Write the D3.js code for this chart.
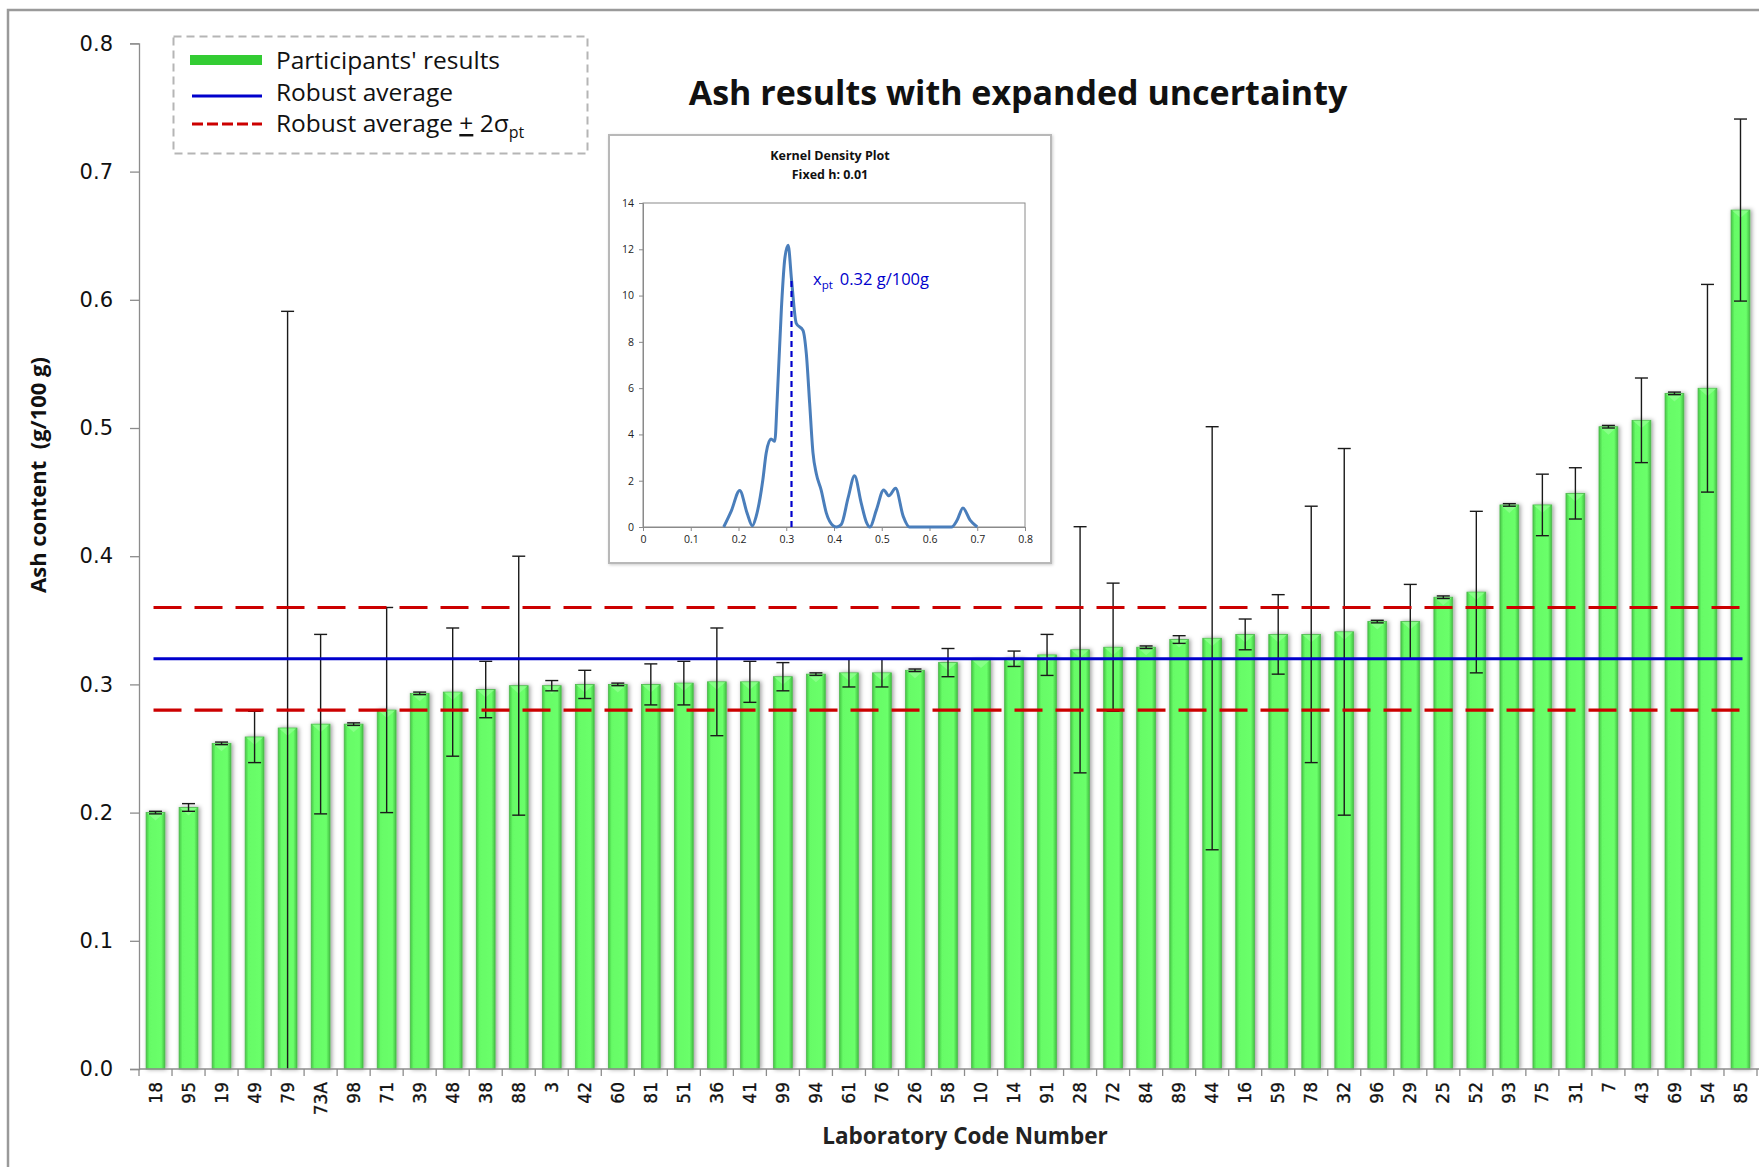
<!DOCTYPE html>
<html>
<head>
<meta charset="utf-8">
<script src="https://cdn.jsdelivr.net/npm/d3@7"></script>
<style>
  body { margin: 0; background: #fff; }
  svg { display: block; }
</style>
</head>
<body>
<div id="chart"></div>
<script>
// lab codes, sorted by result
const labs = ["18","95","19","49","79","73A","98","71","39","48","38","88","3","42","60","81","51","36","41","99",
  "94","61","76","26","58","10","14","91","28","72","84","89","44","16","59","78","32","96","29","25",
  "52","93","75","31","7","43","69","54","85"];
const results = [0.200,0.204,0.254,0.259,0.266,0.269,0.269,0.280,0.293,0.294,0.296,0.299,0.299,0.300,0.300,0.300,0.301,0.302,0.302,0.306,
  0.308,0.309,0.309,0.311,0.317,0.319,0.320,0.323,0.327,0.329,0.329,0.335,0.336,0.339,0.339,0.339,0.341,0.349,0.349,0.368,
  0.372,0.440,0.440,0.449,0.501,0.506,0.527,0.531,0.670];
const uncert = [0.001,0.003,0.001,0.020,0.325,0.070,0.001,0.080,0.001,0.050,0.022,0.101,0.004,0.011,0.001,0.016,0.017,0.042,0.016,0.011,
  0.001,0.011,0.011,0.001,0.011,0,0.006,0.016,0.096,0.050,0.001,0.003,0.165,0.012,0.031,0.100,0.143,0.001,0.029,0.001,
  0.063,0.001,0.024,0.020,0.001,0.033,0.001,0.081,0.071];
const robustAvg = 0.32;
const sigmaBand = [0.28, 0.36];
const yTicks = [0, 0.1, 0.2, 0.3, 0.4, 0.5, 0.6, 0.7, 0.8];

// kernel density inset
const kdeX = [0.169,0.185,0.2025,0.218,0.229,0.237,0.251,0.258,0.268,0.276,0.281,0.29,0.297,0.304,0.311,0.321,0.335,0.342,0.349,0.356,
  0.363,0.373,0.384,0.398,0.405,0.415,0.43,0.443,0.457,0.468,0.475,0.489,0.504,0.515,0.529,0.545,0.558,0.646,0.658,0.67,0.685,0.70];
const kdeY = [0,0.7,1.58,0.6,0.05,0.46,2.04,3.2,3.8,3.7,5.5,9.5,11.6,12.17,10.7,8.8,8.5,7.5,5.35,3.2,
  2.3,1.6,0.6,0.06,0,0.1,1.3,2.21,1.03,0.2,0,0.75,1.6,1.35,1.67,0.46,0,0,0.3,0.82,0.3,0];
const kdeXTicks = [0, 0.1, 0.2, 0.3, 0.4, 0.5, 0.6, 0.7, 0.8];
const kdeYTicks = [0, 2, 4, 6, 8, 10, 12, 14];
const xptLine = 0.311;

const W = 1759, H = 1167;
const svg = d3.select("#chart").append("svg")
  .attr("width", W)
  .attr("height", H);

const defs = svg.append("defs");
const grad = defs.append("linearGradient").attr("id", "barGrad")
  .attr("x1", "0%").attr("x2", "100%").attr("y1", "0%").attr("y2", "0%");
grad.append("stop").attr("offset", "0%").attr("stop-color", "#45c645");
grad.append("stop").attr("offset", "18%").attr("stop-color", "#66fb66");
grad.append("stop").attr("offset", "80%").attr("stop-color", "#6aff6a");
grad.append("stop").attr("offset", "100%").attr("stop-color", "#42c042");

const shadow = defs.append("filter").attr("id", "barShadow")
  .attr("x", "-40%").attr("y", "-5%").attr("width", "180%").attr("height", "110%");
shadow.append("feDropShadow").attr("dx", 1.5).attr("dy", 0).attr("stdDeviation", 2.2)
  .attr("flood-color", "#000").attr("flood-opacity", 0.4);

const insetShadow = defs.append("filter").attr("id", "insetShadow")
  .attr("x", "-5%").attr("y", "-5%").attr("width", "110%").attr("height", "110%");
insetShadow.append("feDropShadow").attr("dx", 1).attr("dy", 1).attr("stdDeviation", 1.5)
  .attr("flood-color", "#000").attr("flood-opacity", 0.2);

defs.append("clipPath").attr("id", "plotClip")
  .append("rect").attr("x", 130).attr("y", 20).attr("width", 1640).attr("height", 1049);

// outer chart frame
svg.append("rect")
  .attr("x", 8).attr("y", 10)
  .attr("width", 1800).attr("height", 1200)
  .attr("fill", "none")
  .attr("stroke", "#9a9a9a")
  .attr("stroke-width", 2.5);

const x = d3.scaleBand()
  .domain(labs)
  .range([139, 1757])
  .paddingInner(0.43)
  .paddingOuter(0.215);

const y = d3.scaleLinear()
  .domain([0, 0.8])
  .range([1069, 43.4]);

// bars
svg.append("g").selectAll("rect")
  .data(results)
  .join("rect")
  .attr("x", (d, i) => x(labs[i]))
  .attr("y", d => y(d))
  .attr("width", x.bandwidth())
  .attr("height", d => y(0) - y(d))
  .attr("fill", "url(#barGrad)")
  .attr("stroke", "#4fb94f")
  .attr("stroke-width", 0.8)
  .attr("filter", "url(#barShadow)");

// little bevel on the top of each bar
svg.append("g").selectAll("path")
  .data(results)
  .join("path")
  .attr("d", (d, i) => {
    const x0 = x(labs[i]), w = x.bandwidth(), t = y(d);
    return `M${x0 + 1},${t + 0.5} L${x0 + w - 1},${t + 0.5} L${x0 + w / 2},${t + 8} Z`;
  })
  .attr("fill", "#8dff8d")
  .attr("opacity", 0.8);

// error bars
const eg = svg.append("g").attr("clip-path", "url(#plotClip)")
  .attr("stroke", "#1a1a1a").attr("stroke-width", 1.4);
results.forEach((d, i) => {
  const e = uncert[i];
  if (e <= 0) return;
  const cx = x(labs[i]) + x.bandwidth() / 2;
  eg.append("line")
    .attr("x1", cx).attr("x2", cx)
    .attr("y1", y(d + e)).attr("y2", y(d - e));
  [d + e, d - e].forEach(v => {
    eg.append("line")
      .attr("x1", cx - 6.5).attr("x2", cx + 6.5)
      .attr("y1", y(v)).attr("y2", y(v));
  });
});

// reference lines
const xFirst = x(labs[0]) + x.bandwidth() / 2;
const xLast = x(labs[labs.length - 1]) + x.bandwidth() / 2;
sigmaBand.forEach(v => {
  svg.append("line")
    .attr("x1", xFirst - 2).attr("x2", xLast + 2)
    .attr("y1", y(v)).attr("y2", y(v))
    .attr("stroke", "#cc0000")
    .attr("stroke-width", 3.2)
    .attr("stroke-dasharray", "28,13");
});
svg.append("line")
  .attr("x1", xFirst - 2).attr("x2", xLast + 2)
  .attr("y1", y(robustAvg)).attr("y2", y(robustAvg))
  .attr("stroke", "#0000cc")
  .attr("stroke-width", 3);

// y axis
const yAxis = svg.append("g")
  .attr("transform", "translate(139,0)")
  .call(d3.axisLeft(y).tickValues(yTicks).tickFormat(d3.format(".1f")).tickSize(9).tickPadding(17));
yAxis.select(".domain").attr("stroke", "#8c8c8c").attr("stroke-width", 1.3);
yAxis.selectAll(".tick line").attr("stroke", "#8c8c8c").attr("stroke-width", 1.3);
yAxis.selectAll(".tick text")
  .attr("font-family", "DejaVu Sans, Verdana, sans-serif")
  .attr("font-size", 21)
  .attr("fill", "#111");

// x axis: ticks between the bars
const xg = svg.append("g");
xg.append("line")
  .attr("x1", 139).attr("x2", 1759)
  .attr("y1", y(0)).attr("y2", y(0))
  .attr("stroke", "#8c8c8c").attr("stroke-width", 1.3);
const step = x.step();
xg.selectAll("line.tk")
  .data(d3.range(labs.length + 1))
  .join("line")
  .attr("class", "tk")
  .attr("x1", i => 139 + i * step).attr("x2", i => 139 + i * step)
  .attr("y1", y(0)).attr("y2", y(0) + 7)
  .attr("stroke", "#8c8c8c").attr("stroke-width", 1.3);
xg.selectAll("text")
  .data(labs)
  .join("text")
  .attr("transform", d => `translate(${x(d) + x.bandwidth() / 2},1082) rotate(-90)`)
  .attr("text-anchor", "end")
  .attr("dy", "0.36em")
  .attr("font-family", "DejaVu Sans, Verdana, sans-serif")
  .attr("font-size", 17)
  .attr("fill", "#111")
  .attr("stroke", "#111")
  .attr("stroke-width", 0.35)
  .text(d => d);

// axis titles
svg.append("text")
  .attr("x", 965).attr("y", 1144)
  .attr("text-anchor", "middle")
  .attr("font-family", "Open Sans, sans-serif")
  .attr("font-weight", "bold")
  .attr("font-size", 22.5)
  .attr("fill", "#222")
  .text("Laboratory Code Number");

svg.append("text")
  .attr("transform", "translate(46,475) rotate(-90)")
  .attr("text-anchor", "middle")
  .attr("font-family", "Open Sans, sans-serif")
  .attr("font-weight", "bold")
  .attr("font-size", 22)
  .attr("fill", "#111")
  .attr("xml:space", "preserve")
  .text("Ash content  (g/100 g)");

// chart title
svg.append("text")
  .attr("x", 1018).attr("y", 105)
  .attr("text-anchor", "middle")
  .attr("font-family", "Open Sans, sans-serif")
  .attr("font-weight", "bold")
  .attr("font-size", 34)
  .attr("fill", "#111")
  .text("Ash results with expanded uncertainty");

// legend
const lg = svg.append("g");
lg.append("rect")
  .attr("x", 173.5).attr("y", 36.5)
  .attr("width", 414).attr("height", 117)
  .attr("fill", "#fff")
  .attr("stroke", "#b5b5b5")
  .attr("stroke-width", 2)
  .attr("stroke-dasharray", "8,5");
lg.append("line").attr("x1", 190).attr("x2", 262).attr("y1", 60).attr("y2", 60)
  .attr("stroke", "#33cc33").attr("stroke-width", 10);
lg.append("line").attr("x1", 192).attr("x2", 262).attr("y1", 96).attr("y2", 96)
  .attr("stroke", "#0000cc").attr("stroke-width", 3);
lg.append("line").attr("x1", 192).attr("x2", 262).attr("y1", 124).attr("y2", 124)
  .attr("stroke", "#cc0000").attr("stroke-width", 3.2).attr("stroke-dasharray", "11,4");
const legendFont = { family: "Open Sans, sans-serif", size: 24.5 };
lg.append("text").attr("x", 276).attr("y", 69)
  .attr("font-family", legendFont.family).attr("font-size", legendFont.size).attr("fill", "#111")
  .text("Participants' results");
lg.append("text").attr("x", 276).attr("y", 101)
  .attr("font-family", legendFont.family).attr("font-size", legendFont.size).attr("fill", "#111")
  .text("Robust average");
const l3 = lg.append("text").attr("x", 276).attr("y", 132)
  .attr("font-family", legendFont.family).attr("font-size", legendFont.size).attr("fill", "#111");
l3.append("tspan").text("Robust average ");
l3.append("tspan").attr("text-decoration", "underline").text("+");
l3.append("tspan").text(" 2\u03c3");
l3.append("tspan").attr("font-size", 16).attr("dy", 6).text("pt");

// kernel density inset
const ins = svg.append("g");
ins.append("rect")
  .attr("x", 609).attr("y", 135)
  .attr("width", 442).attr("height", 428)
  .attr("fill", "#fff")
  .attr("stroke", "#b8b8b8")
  .attr("stroke-width", 2)
  .attr("filter", "url(#insetShadow)");
ins.append("text").attr("x", 830).attr("y", 160)
  .attr("text-anchor", "middle")
  .attr("font-family", "Open Sans, sans-serif").attr("font-weight", "bold").attr("font-size", 12.5)
  .attr("fill", "#111").text("Kernel Density Plot");
ins.append("text").attr("x", 830).attr("y", 179)
  .attr("text-anchor", "middle")
  .attr("font-family", "Open Sans, sans-serif").attr("font-weight", "bold").attr("font-size", 12.5)
  .attr("fill", "#111").text("Fixed h: 0.01");

const kx = d3.scaleLinear().domain([0, 0.8]).range([643, 1025]);
const ky = d3.scaleLinear().domain([0, 14]).range([527, 203]);

ins.append("rect")
  .attr("x", 643).attr("y", 203)
  .attr("width", 1025 - 643).attr("height", 527 - 203)
  .attr("fill", "none").attr("stroke", "#8a8a8a").attr("stroke-width", 1);

const kxAxis = ins.append("g").attr("transform", "translate(0,527)")
  .call(d3.axisBottom(kx).tickValues(kdeXTicks).tickFormat(d => d === 0 ? "0" : d3.format(".1f")(d)).tickSize(4).tickPadding(5));
const kyAxis = ins.append("g").attr("transform", "translate(643,0)")
  .call(d3.axisLeft(ky).tickValues(kdeYTicks).tickSize(4).tickPadding(5));
[kxAxis, kyAxis].forEach(a => {
  a.select(".domain").attr("stroke", "#8a8a8a");
  a.selectAll(".tick line").attr("stroke", "#8a8a8a");
  a.selectAll(".tick text")
    .attr("font-family", "Open Sans, sans-serif")
    .attr("font-size", 10.5)
    .attr("fill", "#222");
});

const kde = kdeX.map((v, i) => [v, kdeY[i]]);
ins.append("path")
  .datum(kde)
  .attr("fill", "none")
  .attr("stroke", "#4a7ebb")
  .attr("stroke-width", 3)
  .attr("stroke-linejoin", "round")
  .attr("d", d3.line().x(d => kx(d[0])).y(d => ky(d[1])).curve(d3.curveMonotoneX));

ins.append("line")
  .attr("x1", kx(xptLine)).attr("x2", kx(xptLine))
  .attr("y1", ky(0)).attr("y2", ky(10.7))
  .attr("stroke", "#0000cc")
  .attr("stroke-width", 2.2)
  .attr("stroke-dasharray", "6,4");

const ann = ins.append("text").attr("x", 813).attr("y", 285)
  .attr("font-family", "Open Sans, sans-serif").attr("font-size", 16.5).attr("fill", "#0000cc");
ann.append("tspan").text("x");
ann.append("tspan").attr("font-size", 11.5).attr("dy", 4).text("pt");
ann.append("tspan").attr("dy", -4).attr("dx", 7).text("0.32 g/100g");
</script>
</body>
</html>
